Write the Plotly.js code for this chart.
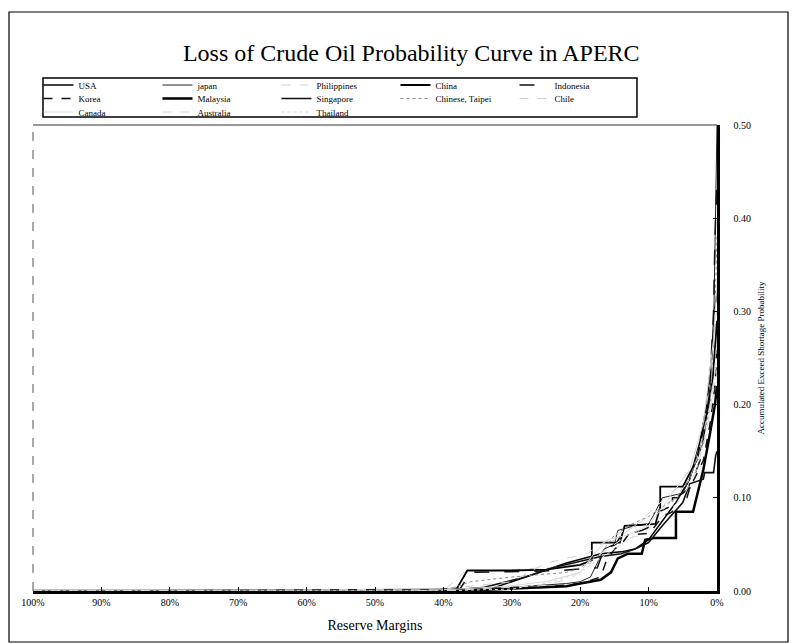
<!DOCTYPE html>
<html>
<head>
<meta charset="utf-8">
<script src="https://cdn.plot.ly/plotly-3.0.1.min.js"></script>
<style>html,body{margin:0;padding:0;background:#fff;}#chart{width:797px;height:644px;}</style>
</head>
<body>
<div id="chart"></div>
<script>
// Reserve margin (%) on x, accumulated shortage probability on y
const countries = ["USA","japan","Philippines","China","Indonesia",
                   "Korea","Malaysia","Singapore","Chinese, Taipei","Chile",
                   "Canada","Australia","Thailand"];

const usaX = [100,40,34,30,26,22,19,17,14,12,10,8,6,4,2.5,1.5,0.8,0.4,0];
const usaY = [0,0,0,0.01,0.02,0.03,0.036,0.04,0.042,0.045,0.055,0.075,0.095,0.12,0.16,0.2,0.25,0.3,0.32];

const japanX = [100,50,40,30,22,20,18.5,17.5,16.5,15,14.5,12,10,9,8,5,4,2,1,0.5,0.2,0];
const japanY = [0,0.001,0.002,0.004,0.008,0.01,0.015,0.03,0.045,0.05,0.065,0.07,0.072,0.085,0.1,0.105,0.12,0.16,0.22,0.28,0.42,0.5];

const philX = [100,40,37,25,18,16,13,10,7,4,2,1,0];
const philY = [0,0,0.02,0.025,0.03,0.05,0.065,0.08,0.095,0.12,0.17,0.23,0.3];

const chinaX = [100,42,38,36.5,30,25,20,18.3,18.3,14.2,13.5,9,8.3,8.3,5,4.4,3,1.5,0.6,0];
const chinaY = [0,0,0.003,0.022,0.022,0.023,0.028,0.033,0.052,0.052,0.07,0.072,0.09,0.112,0.112,0.12,0.14,0.19,0.23,0.29];

const indoX = [100,45,37.5,36,28,23,17.5,16.5,14.8,14,11,9.5,8.5,7,6,4,2.5,1.2,0.5,0.3,0];
const indoY = [0,0,0.003,0.02,0.021,0.022,0.025,0.045,0.05,0.06,0.065,0.07,0.085,0.09,0.1,0.11,0.14,0.2,0.3,0.38,0.44];

const koreaX = [100,40,35,25,20,17,16.3,15,14,13,10,9,8,6.5,6.5,4.4,4,2,1,0.3,0];
const koreaY = [0,0,0.002,0.004,0.008,0.015,0.03,0.045,0.05,0.06,0.062,0.07,0.08,0.085,0.1,0.1,0.11,0.14,0.18,0.22,0.26];

const malayX = [100,40,35,28,22,20,17,15.5,14.5,13,11,10.5,9,6,6,3.5,3,2,1,0.3,0];
const malayY = [0,0,0.001,0.003,0.005,0.008,0.012,0.02,0.035,0.04,0.04,0.055,0.057,0.057,0.085,0.085,0.1,0.13,0.17,0.2,0.22];

const singX = [100,40,34,28,24,20,17,14,12,10,8,5,4,2,1.8,0.5,0.2,0];
const singY = [0,0,0.004,0.015,0.025,0.032,0.037,0.04,0.045,0.052,0.07,0.095,0.115,0.12,0.127,0.127,0.145,0.15];

const taipeiX = [100,40,36,30,22,20,17,15,13,10,8,6,4,2,1,0.3,0];
const taipeiY = [0,0,0.01,0.015,0.02,0.025,0.04,0.06,0.07,0.08,0.09,0.1,0.12,0.16,0.2,0.3,0.38];

const chileX = [100,60,40,30,25,22,19,17,15,12,9,6,3,1,0];
const chileY = [0,0.001,0.002,0.01,0.03,0.035,0.04,0.05,0.06,0.07,0.09,0.11,0.14,0.2,0.25];

const canadaX = [100,45,38,31,25,20,18,16,13,10,7,4,2,0.5,0];
const canadaY = [0,0,0.002,0.005,0.01,0.02,0.04,0.055,0.06,0.07,0.1,0.13,0.18,0.27,0.33];

const austX = [100,40,33,25,21,19,17,14,11,8,5,3,1.5,0.5,0];
const austY = [0,0,0.003,0.006,0.015,0.03,0.04,0.055,0.06,0.08,0.1,0.13,0.17,0.22,0.27];

const thaiX = [100,40,36,30,24,20,18,15,12,9,6,3,1,0];
const thaiY = [0,0,0.001,0.002,0.01,0.02,0.03,0.045,0.06,0.08,0.1,0.13,0.19,0.24];

const xTickVals = [100,90,80,70,60,50,40,30,20,10,0];
const xTickText = ["100%","90%","80%","70%","60%","50%","40%","30%","20%","10%","0%"];
const yTickVals = [0,0.1,0.2,0.3,0.4,0.5];
const yTickText = ["0.00","0.10","0.20","0.30","0.40","0.50"];

const seriesX = [usaX,japanX,philX,chinaX,indoX,koreaX,malayX,singX,taipeiX,chileX,canadaX,austX,thaiX];
const seriesY = [usaY,japanY,philY,chinaY,indoY,koreaY,malayY,singY,taipeiY,chileY,canadaY,austY,thaiY];

const styles = [
  {color:"#000", width:1.5, dash:"solid"},
  {color:"#222", width:1, dash:"solid"},
  {color:"#d0d0d0", width:1, dash:"dash"},
  {color:"#000", width:1.8, dash:"solid"},
  {color:"#111", width:1.5, dash:"longdash"},
  {color:"#111", width:1.5, dash:"dash"},
  {color:"#000", width:2.5, dash:"solid"},
  {color:"#111", width:1.6, dash:"solid"},
  {color:"#888", width:1, dash:"dot"},
  {color:"#d0d0d0", width:1, dash:"dash"},
  {color:"#d8d8d8", width:1, dash:"solid"},
  {color:"#d8d8d8", width:1, dash:"dash"},
  {color:"#d8d8d8", width:1, dash:"dot"}
];
const legendOf = ["legend","legend","legend","legend","legend",
                  "legend2","legend2","legend2","legend2","legend2",
                  "legend3","legend3","legend3"];

const traces = countries.map((name,i)=>({
  type:"scatter", mode:"lines", name:name,
  x:seriesX[i], y:seriesY[i],
  line:{color:styles[i].color, width:styles[i].width, dash:styles[i].dash},
  legend:legendOf[i]
}));

const serif = "Liberation Serif, Times New Roman, serif";
const legendBase = {
  orientation:"h", xanchor:"left", yanchor:"middle", x:0.008,
  bgcolor:"rgba(0,0,0,0)", borderwidth:0,
  font:{family:serif, size:9, color:"#000"},
  entrywidth:74, entrywidthmode:"pixels", itemwidth:30, tracegroupgap:0
};

const layout = {
  width:797, height:644,
  margin:{l:33, r:80, t:125, b:53},
  paper_bgcolor:"#fff", plot_bgcolor:"#fff",
  showlegend:true,
  font:{family:serif, color:"#000"},
  title:{text:"Loss of Crude Oil Probability Curve in APERC",
         font:{family:serif, size:24, color:"#000"},
         xref:"container", x:0.516, xanchor:"center",
         yref:"container", y:0.918, yanchor:"middle"},
  xaxis:{range:[100,0], tickmode:"array", tickvals:xTickVals, ticktext:xTickText,
         ticks:"inside", ticklen:4, tickcolor:"#000", showgrid:false, zeroline:false,
         showline:true, linecolor:"#000", linewidth:2.5,
         tickfont:{family:serif, size:10, color:"#000"},
         title:{text:"Reserve Margins", font:{family:serif, size:14, color:"#000"}, standoff:14}},
  yaxis:{range:[0,0.5], side:"right", tickmode:"array", tickvals:yTickVals, ticktext:yTickText,
         ticks:"inside", ticklen:4, tickcolor:"#000", showgrid:false, zeroline:false,
         showline:true, linecolor:"#000", linewidth:2.5, ticklabelstandoff:12,
         tickfont:{family:serif, size:10, color:"#000"},
         title:{text:"Accumulated Exceed Shortage Probability", font:{family:serif, size:9, color:"#000"}, standoff:8}},
  legend: Object.assign({}, legendBase, {y:1.0858}),
  legend2: Object.assign({}, legendBase, {y:1.0569}),
  legend3: Object.assign({}, legendBase, {y:1.0279}),
  shapes:[
    {type:"line", xref:"paper", yref:"paper", x0:0, x1:1, y0:1, y1:1, line:{color:"#333", width:1}},
    {type:"line", xref:"paper", yref:"paper", x0:0, x1:0, y0:0, y1:1, line:{color:"#555", width:1, dash:"dash"}},
    {type:"rect", xref:"paper", yref:"paper", x0:0.0146, x1:0.883, y0:1.0172, y1:1.1009, line:{color:"#000", width:1.5}},
    {type:"rect", xref:"paper", yref:"paper", x0:-0.0351, x1:1.1038, y0:-0.1094, y1:1.2425, line:{color:"#000", width:1.2}}
  ]
};

Plotly.newPlot("chart", traces, layout, {displayModeBar:false, staticPlot:true});
</script>
</body>
</html>
